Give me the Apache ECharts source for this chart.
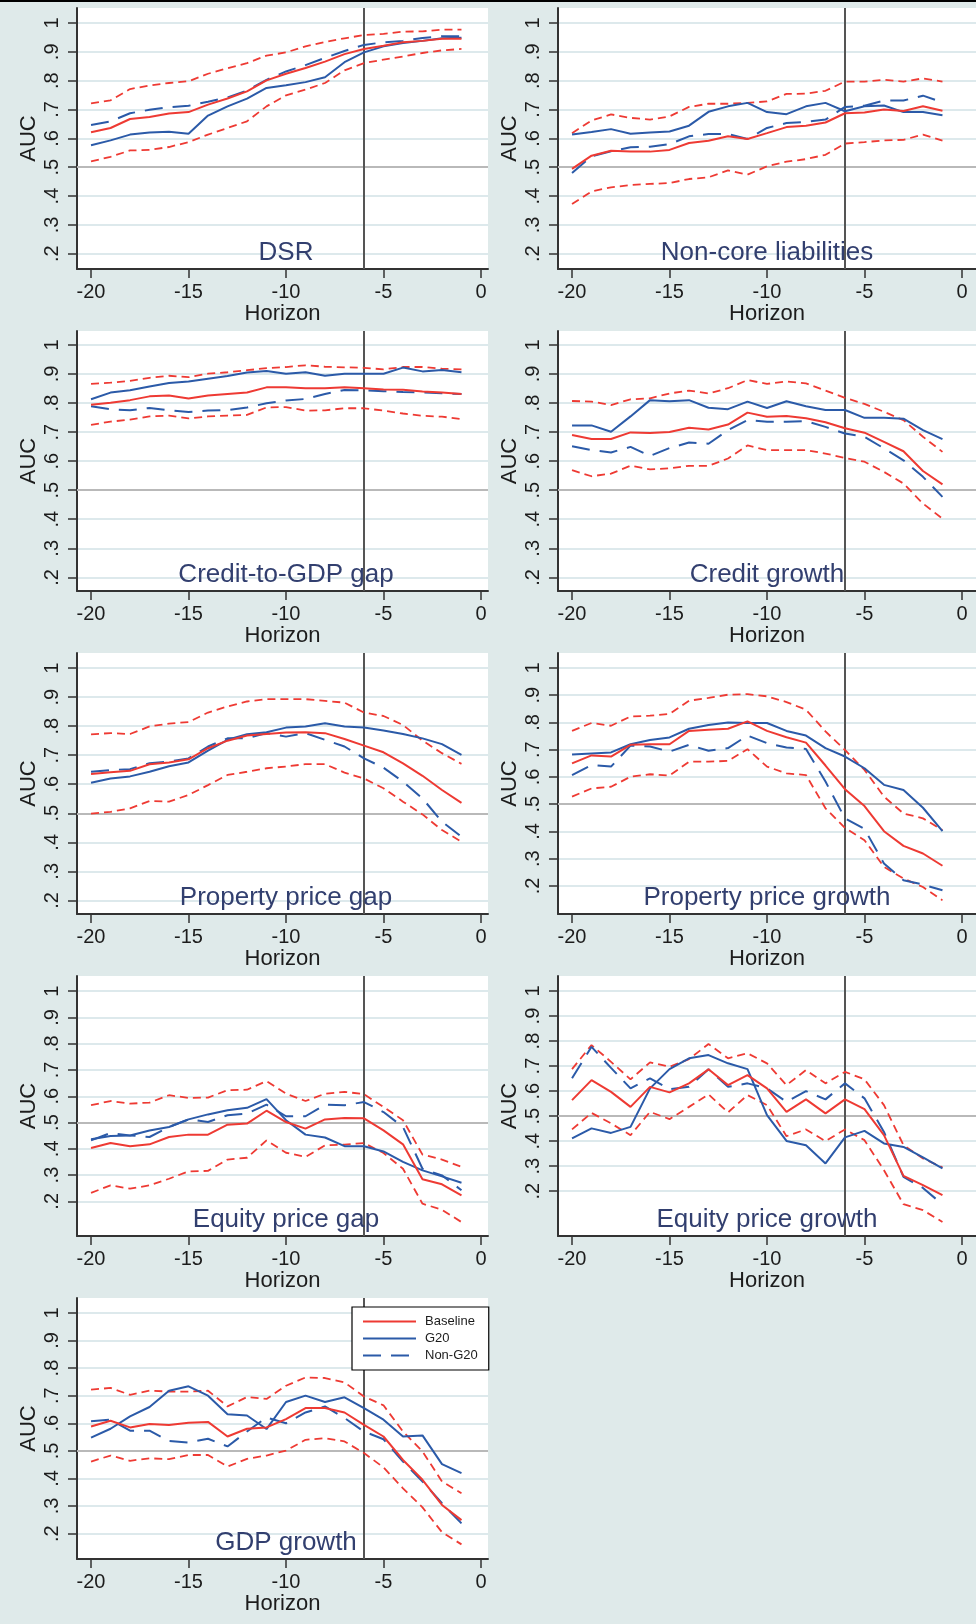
<!DOCTYPE html>
<html><head><meta charset="utf-8">
<script src="https://cdn.jsdelivr.net/npm/echarts@6/dist/echarts.min.js"></script>
<style>html,body{margin:0;padding:0;background:#dfeaea;} #c{width:976px;height:1624px;}</style>
</head><body><div id="c"></div>
<script>
// ---------------- DATA ----------------
const horizon = [-20,-19,-18,-17,-16,-15,-14,-13,-12,-11,-10,-9,-8,-7,-6,-5,-4,-3,-2,-1];
const yTicks = [0.2,0.3,0.4,0.5,0.6,0.7,0.8,0.9,1];
const xTicks = [-20,-15,-10,-5,0];
const legendNames = ['Baseline','G20','Non-G20'];

const dsrBaseline = [0.621,0.636,0.667,0.674,0.686,0.691,0.717,0.738,0.763,0.801,0.824,0.844,0.866,0.892,0.910,0.921,0.933,0.938,0.945,0.945];
const dsrG20      = [0.576,0.593,0.613,0.620,0.623,0.616,0.679,0.711,0.738,0.775,0.784,0.795,0.812,0.864,0.898,0.919,0.931,0.938,0.947,0.949];
const dsrNonG20   = [0.646,0.659,0.687,0.699,0.708,0.713,0.727,0.742,0.766,0.803,0.832,0.854,0.879,0.903,0.924,0.933,0.938,0.948,0.954,0.954];
const dsrUpper    = [0.721,0.732,0.771,0.783,0.792,0.798,0.824,0.843,0.861,0.887,0.898,0.919,0.934,0.947,0.958,0.962,0.970,0.971,0.977,0.977];
const dsrLower    = [0.520,0.536,0.558,0.560,0.570,0.587,0.613,0.636,0.659,0.711,0.749,0.769,0.792,0.836,0.861,0.873,0.884,0.896,0.905,0.910];

const nclBaseline = [0.494,0.540,0.557,0.554,0.554,0.560,0.584,0.592,0.607,0.598,0.618,0.639,0.644,0.655,0.687,0.690,0.700,0.695,0.711,0.696];
const nclG20      = [0.613,0.622,0.632,0.616,0.620,0.624,0.644,0.692,0.711,0.723,0.691,0.684,0.711,0.723,0.694,0.711,0.714,0.691,0.691,0.680];
const nclNonG20   = [0.480,0.538,0.555,0.569,0.571,0.580,0.607,0.615,0.615,0.598,0.636,0.653,0.657,0.665,0.709,0.713,0.731,0.731,0.748,0.725];
const nclUpper    = [0.618,0.662,0.683,0.671,0.665,0.676,0.709,0.720,0.720,0.723,0.728,0.754,0.755,0.765,0.797,0.797,0.803,0.797,0.808,0.797];
const nclLower    = [0.372,0.416,0.430,0.438,0.442,0.445,0.459,0.465,0.489,0.474,0.503,0.519,0.528,0.543,0.582,0.587,0.593,0.595,0.613,0.592];

const cgapBaseline = [0.794,0.801,0.810,0.823,0.826,0.816,0.826,0.831,0.836,0.854,0.854,0.851,0.851,0.854,0.851,0.847,0.846,0.840,0.836,0.831];
const cgapG20      = [0.813,0.836,0.844,0.857,0.869,0.874,0.884,0.893,0.905,0.910,0.901,0.906,0.894,0.901,0.901,0.901,0.922,0.909,0.914,0.906];
const cgapNonG20   = [0.789,0.779,0.775,0.783,0.775,0.769,0.774,0.776,0.785,0.799,0.809,0.814,0.831,0.845,0.844,0.841,0.838,0.837,0.834,0.831];
const cgapUpper    = [0.866,0.870,0.876,0.887,0.894,0.889,0.901,0.906,0.913,0.920,0.924,0.930,0.925,0.923,0.921,0.916,0.924,0.924,0.918,0.916];
const cgapLower    = [0.725,0.736,0.743,0.754,0.757,0.747,0.754,0.757,0.759,0.785,0.786,0.774,0.775,0.782,0.782,0.774,0.764,0.756,0.753,0.745];

const cgrBaseline = [0.690,0.676,0.676,0.699,0.697,0.700,0.715,0.709,0.726,0.767,0.753,0.755,0.748,0.734,0.713,0.698,0.666,0.634,0.566,0.520];
const cgrG20      = [0.723,0.723,0.701,0.754,0.810,0.806,0.810,0.784,0.779,0.805,0.783,0.806,0.789,0.776,0.776,0.749,0.749,0.746,0.707,0.676];
const cgrNonG20   = [0.651,0.638,0.630,0.649,0.618,0.645,0.664,0.660,0.707,0.741,0.736,0.736,0.738,0.718,0.695,0.684,0.644,0.603,0.546,0.477];
const cgrUpper    = [0.807,0.805,0.793,0.813,0.816,0.833,0.843,0.833,0.851,0.879,0.866,0.874,0.868,0.843,0.818,0.797,0.770,0.741,0.684,0.632];
const cgrLower    = [0.569,0.548,0.557,0.584,0.572,0.575,0.584,0.584,0.609,0.654,0.638,0.638,0.638,0.626,0.611,0.598,0.563,0.523,0.454,0.402];

const ppgapBaseline = [0.635,0.641,0.646,0.669,0.675,0.686,0.724,0.750,0.768,0.773,0.778,0.779,0.776,0.756,0.733,0.710,0.672,0.629,0.580,0.536];
const ppgapG20      = [0.605,0.620,0.627,0.643,0.662,0.675,0.716,0.753,0.772,0.779,0.795,0.799,0.810,0.799,0.795,0.785,0.773,0.758,0.738,0.701];
const ppgapNonG20   = [0.643,0.649,0.652,0.672,0.678,0.689,0.730,0.758,0.758,0.776,0.764,0.776,0.753,0.730,0.689,0.657,0.609,0.551,0.471,0.419];
const ppgapUpper    = [0.772,0.776,0.773,0.799,0.809,0.814,0.847,0.868,0.885,0.893,0.893,0.893,0.887,0.881,0.847,0.835,0.804,0.750,0.707,0.670];
const ppgapLower    = [0.499,0.505,0.517,0.542,0.540,0.563,0.597,0.632,0.643,0.655,0.661,0.669,0.669,0.640,0.620,0.586,0.540,0.496,0.442,0.402];

const ppgrBaseline = [0.650,0.679,0.675,0.718,0.720,0.720,0.769,0.773,0.777,0.804,0.769,0.746,0.726,0.642,0.555,0.493,0.401,0.347,0.319,0.274];
const ppgrG20      = [0.682,0.686,0.690,0.720,0.736,0.745,0.777,0.791,0.800,0.798,0.798,0.769,0.752,0.706,0.675,0.632,0.571,0.552,0.487,0.401];
const ppgrNonG20   = [0.607,0.644,0.638,0.715,0.712,0.693,0.718,0.696,0.706,0.752,0.724,0.708,0.703,0.583,0.448,0.409,0.282,0.221,0.205,0.184];
const ppgrUpper    = [0.769,0.798,0.788,0.822,0.825,0.831,0.880,0.890,0.902,0.904,0.896,0.875,0.847,0.767,0.699,0.626,0.528,0.466,0.448,0.405];
const ppgrLower    = [0.528,0.558,0.564,0.601,0.610,0.605,0.656,0.656,0.659,0.702,0.638,0.613,0.607,0.485,0.413,0.368,0.270,0.227,0.196,0.147];

const epgapBaseline = [0.403,0.422,0.410,0.417,0.445,0.454,0.454,0.492,0.496,0.545,0.502,0.477,0.512,0.517,0.516,0.470,0.417,0.284,0.265,0.223];
const epgapG20      = [0.436,0.449,0.451,0.470,0.483,0.512,0.531,0.547,0.556,0.589,0.509,0.454,0.443,0.410,0.410,0.390,0.350,0.318,0.295,0.271];
const epgapNonG20   = [0.432,0.460,0.451,0.445,0.483,0.512,0.502,0.528,0.534,0.568,0.524,0.524,0.568,0.566,0.578,0.540,0.483,0.324,0.299,0.242];
const epgapUpper    = [0.566,0.582,0.572,0.576,0.604,0.594,0.595,0.623,0.625,0.658,0.610,0.582,0.610,0.617,0.608,0.559,0.509,0.378,0.359,0.331];
const epgapLower    = [0.232,0.261,0.248,0.261,0.286,0.314,0.316,0.359,0.366,0.432,0.385,0.369,0.413,0.416,0.422,0.384,0.324,0.191,0.168,0.121];

const epgrBaseline = [0.564,0.644,0.597,0.537,0.617,0.595,0.631,0.687,0.624,0.664,0.611,0.517,0.567,0.511,0.567,0.528,0.424,0.261,0.224,0.184];
const epgrG20      = [0.411,0.451,0.433,0.457,0.611,0.688,0.731,0.744,0.711,0.688,0.504,0.401,0.384,0.311,0.415,0.441,0.391,0.377,0.335,0.291];
const epgrNonG20   = [0.651,0.777,0.693,0.611,0.651,0.608,0.617,0.687,0.617,0.631,0.611,0.557,0.600,0.567,0.631,0.571,0.437,0.257,0.213,0.147];
const epgrUpper    = [0.688,0.784,0.717,0.647,0.715,0.697,0.728,0.788,0.731,0.751,0.711,0.624,0.684,0.631,0.677,0.647,0.544,0.384,0.331,0.295];
const epgrLower    = [0.447,0.513,0.471,0.424,0.517,0.488,0.537,0.587,0.515,0.584,0.544,0.420,0.447,0.400,0.447,0.404,0.284,0.148,0.124,0.077];

const gdpBaseline = [0.588,0.609,0.585,0.597,0.594,0.602,0.605,0.552,0.580,0.585,0.615,0.655,0.655,0.639,0.594,0.552,0.467,0.395,0.304,0.249];
const gdpG20      = [0.548,0.580,0.625,0.659,0.718,0.734,0.700,0.633,0.628,0.579,0.677,0.700,0.677,0.694,0.655,0.613,0.552,0.556,0.452,0.419];
const gdpNonG20   = [0.607,0.613,0.573,0.573,0.536,0.530,0.544,0.516,0.570,0.621,0.600,0.639,0.661,0.619,0.570,0.542,0.461,0.389,0.310,0.237];
const gdpUpper    = [0.722,0.728,0.703,0.718,0.715,0.715,0.718,0.661,0.695,0.688,0.736,0.766,0.764,0.748,0.697,0.665,0.570,0.498,0.389,0.346];
const gdpLower    = [0.461,0.483,0.464,0.473,0.470,0.485,0.485,0.443,0.471,0.483,0.501,0.540,0.546,0.534,0.492,0.440,0.364,0.295,0.205,0.161];

const panelTitles = ['DSR','Non-core liabilities','Credit-to-GDP gap','Credit growth','Property price gap','Property price growth','Equity price gap','Equity price growth','GDP growth'];
const panelData = [
  [dsrBaseline, dsrG20, dsrNonG20, dsrUpper, dsrLower],
  [nclBaseline, nclG20, nclNonG20, nclUpper, nclLower],
  [cgapBaseline, cgapG20, cgapNonG20, cgapUpper, cgapLower],
  [cgrBaseline, cgrG20, cgrNonG20, cgrUpper, cgrLower],
  [ppgapBaseline, ppgapG20, ppgapNonG20, ppgapUpper, ppgapLower],
  [ppgrBaseline, ppgrG20, ppgrNonG20, ppgrUpper, ppgrLower],
  [epgapBaseline, epgapG20, epgapNonG20, epgapUpper, epgapLower],
  [epgrBaseline, epgrG20, epgrNonG20, epgrUpper, epgrLower],
  [gdpBaseline, gdpG20, gdpNonG20, gdpUpper, gdpLower]
];

// ---------------- LAYOUT / STYLE ----------------
const FONT = '"Liberation Sans", Arial, Helvetica, sans-serif';
const RED = '#ee3a33', BLUE = '#2b5aa8', TITLE = '#323f6f', INK = '#1c1c1c';
const colLeft = [77, 558], colWidth = [411, 418], colXMax = [0.36, 0.72];
const rowTop = [8, 331, 653, 976, 1298], rowHeight = [261, 260, 261, 260, 261];
const yRanges = [[0.147,1.052],[0.147,1.052],[0.153,1.048],[0.153,1.048],[0.153,1.052],[0.097,1.055],[0.068,1.058],[0.021,1.06],[0.108,1.054]];

const grids = [], xAxes = [], yAxes = [], series = [];
panelData.forEach((arrs, i) => {
  const col = i % 2, row = Math.floor(i / 2);
  grids.push({left: colLeft[col], top: rowTop[row], width: colWidth[col], height: rowHeight[row],
    show: true, backgroundColor: '#ffffff', borderWidth: 0, containLabel: false});
  xAxes.push({type: 'value', gridIndex: i, min: -20.72, max: colXMax[col],
    axisLine: {onZero: false, lineStyle: {color: '#333', width: 2}},
    axisTick: {show: true, length: 9, customValues: xTicks, lineStyle: {color: '#333', width: 1.5}},
    axisLabel: {customValues: xTicks, margin: 13, fontSize: 20, color: INK, fontFamily: FONT},
    splitLine: {show: false},
    name: 'Horizon', nameLocation: 'middle', nameGap: 31,
    nameTextStyle: {fontSize: 22, color: INK, fontFamily: FONT}});
  yAxes.push({type: 'value', gridIndex: i, min: yRanges[i][0], max: yRanges[i][1],
    axisLine: {show: true, onZero: false, lineStyle: {color: '#333', width: 2}},
    axisTick: {show: true, length: 9, customValues: yTicks, lineStyle: {color: '#333', width: 1.5}},
    axisLabel: {customValues: yTicks, rotate: 90, margin: 15, fontSize: 20, color: INK, fontFamily: FONT,
      formatter: v => (v >= 0.999 ? '1' : '.' + Math.round(v * 10))},
    splitLine: {show: true, lineStyle: {color: '#dde9ec', width: 2}},
    name: 'AUC', nameLocation: 'middle', nameGap: 37,
    nameTextStyle: {fontSize: 22, color: INK, fontFamily: FONT}});
  const pts = a => horizon.map((h, k) => [h, a[k]]);
  const common = {type: 'line', xAxisIndex: i, yAxisIndex: i, symbol: 'none', silent: true, animation: false, z: 3};
  series.push(Object.assign({}, common, {name: 'Lower bound', data: pts(arrs[4]),
    lineStyle: {color: RED, width: 1.8, type: [8, 5]}, itemStyle: {color: RED},
    markLine: {silent: true, symbol: 'none', z: 1, animation: false, label: {show: false},
      data: [
        {yAxis: 0.5, lineStyle: {color: '#b9b9b9', width: 2, type: 'solid'}},
        {xAxis: -6, lineStyle: {color: '#555555', width: 2, type: 'solid'}}
      ]}}));
  series.push(Object.assign({}, common, {name: 'Upper bound', data: pts(arrs[3]),
    lineStyle: {color: RED, width: 1.8, type: [8, 5]}, itemStyle: {color: RED}}));
  series.push(Object.assign({}, common, {name: 'Non-G20', data: pts(arrs[2]),
    lineStyle: {color: BLUE, width: 2, type: [18, 10]}, itemStyle: {color: BLUE}}));
  series.push(Object.assign({}, common, {name: 'G20', data: pts(arrs[1]),
    lineStyle: {color: BLUE, width: 2}, itemStyle: {color: BLUE}}));
  series.push(Object.assign({}, common, {name: 'Baseline', data: pts(arrs[0]),
    lineStyle: {color: RED, width: 2}, itemStyle: {color: RED}}));
});

const chart = echarts.init(document.getElementById('c'), null, {width: 976, height: 1624});
chart.setOption({
  backgroundColor: '#dfeaea',
  animation: false,
  textStyle: {fontFamily: FONT},
  grid: grids, xAxis: xAxes, yAxis: yAxes, series: series,
  legend: {data: legendNames, orient: 'vertical', left: 352, top: 1307, selectedMode: false,
    itemWidth: 53, itemHeight: 14, itemGap: 4, padding: [8, 11, 8, 10],
    itemStyle: {opacity: 0},
    backgroundColor: '#ffffff', borderColor: '#000000', borderWidth: 1.2, borderRadius: 0,
    textStyle: {fontSize: 13, color: INK, fontFamily: FONT, padding: [0, 0, 0, 4]}}
});

// panel titles centred at Horizon = -10, just above the bottom of each plot
const titleEls = panelTitles.map((t, i) => {
  const row = Math.floor(i / 2);
  const px = chart.convertToPixel({xAxisIndex: i}, -10);
  return {type: 'text', z: 10, silent: true,
    style: {text: t, x: px, y: rowTop[row] + rowHeight[row] - 3, align: 'center', verticalAlign: 'bottom',
      fontSize: 26, fill: TITLE, fontFamily: FONT}};
});
chart.setOption({graphic: [
  {type: 'rect', shape: {x: 0, y: 0, width: 976, height: 2}, style: {fill: '#000'}, silent: true, z: 10}
].concat(titleEls)});
</script>
</body></html>
